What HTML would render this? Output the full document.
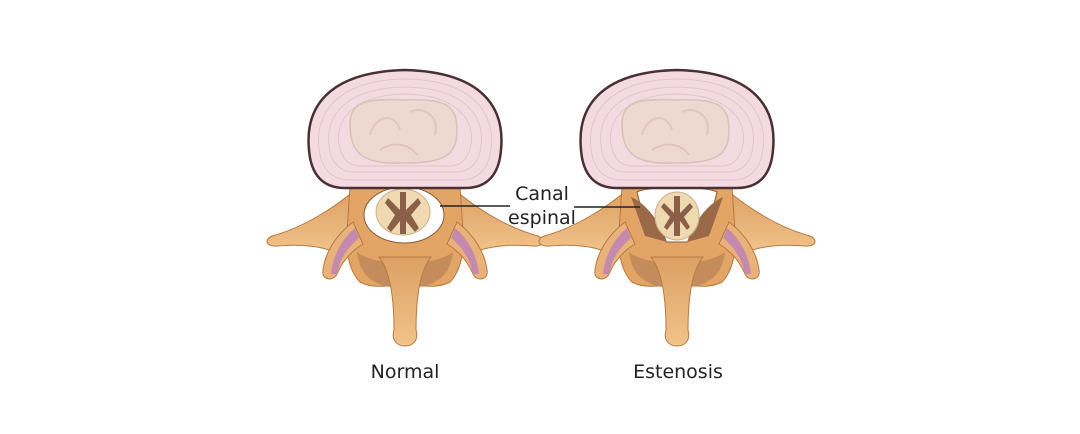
<!DOCTYPE html>
<html><head><meta charset="utf-8"><style>
html,body{margin:0;padding:0;background:#fff;width:1080px;height:434px;overflow:hidden}
svg{display:block}
text{font-family:"DejaVu Sans","Liberation Sans",sans-serif;fill:#222}
</style></head><body>
<svg width="1080" height="434" viewBox="0 0 1080 434" xmlns="http://www.w3.org/2000/svg">
<defs>
<linearGradient id="bone" x1="0" y1="0" x2="0" y2="1">
<stop offset="0" stop-color="#dca064"/><stop offset="1" stop-color="#f0c38a"/>
</linearGradient>
<g id="vert">
 <!-- transverse processes -->
 <path d="M-50,-32 C-70,-15 -100,5 -133,14 C-142,18 -138,25 -128,24 C-105,22 -85,24 -70,30 L-50,25 Z" fill="url(#bone)" stroke="#b9783e"/>
 <path d="M50,-32 C70,-15 100,5 133,14 C142,18 138,25 128,24 C105,22 85,24 70,30 L50,25 Z" fill="url(#bone)" stroke="#b9783e"/>
 <!-- body of posterior arch -->
 <path d="M-55,-35 C-40,-40 40,-40 55,-35 L58,10 C60,30 55,50 45,60 C30,68 15,62 0,64 C-15,62 -30,68 -45,60 C-55,50 -60,30 -58,10 Z" fill="#e2a565" stroke="#b9783e"/>
 <path d="M-48,30 C-30,45 30,45 48,30 C45,55 30,66 0,66 C-30,66 -45,55 -48,30 Z" fill="#b88256" opacity="0.7"/>
 <!-- facet lobes -->
 <path d="M-52,0 C-68,12 -80,30 -82,48 C-84,58 -72,60 -68,52 C-62,38 -52,28 -42,22 Z" fill="#e9b27a" stroke="#b9783e"/>
 <path d="M52,0 C68,12 80,30 82,48 C84,58 72,60 68,52 C62,38 52,28 42,22 Z" fill="#e9b27a" stroke="#b9783e"/>
 <path d="M-50,6 C-62,16 -72,32 -74,52 L-68,52 C-65,36 -56,24 -46,16 Z" fill="#c48aae"/>
 <path d="M50,6 C62,16 72,32 74,52 L68,52 C65,36 56,24 46,16 Z" fill="#c48aae"/>
 <!-- spinous process -->
 <path d="M-26,35 C-14,50 -11,80 -11,108 C-14,118 -8,124 0,124 C8,124 14,118 11,108 C11,80 14,50 26,35 Z" fill="url(#bone)" stroke="#b9783e"/>
</g>
<g id="discg">
 <path d="M-96,20 C-100,-20 -80,-58 0,-60 C80,-58 100,-20 96,20 C94,45 82,58 60,58 L-60,58 C-82,58 -94,45 -96,20 Z" fill="#f3dbe1" stroke="#4a3036" stroke-width="2.5"/>
 <path d="M-86,18 C-90,-15 -70,-50 0,-51 C70,-50 90,-15 86,18 C84,40 72,50 55,50 L-55,50 C-72,50 -84,40 -86,18 Z" fill="none" stroke="#e6c3cc"/>
 <path d="M-76,16 C-80,-12 -62,-42 0,-43 C62,-42 80,-12 76,16 C74,34 64,42 50,42 L-50,42 C-64,42 -74,34 -76,16 Z" fill="none" stroke="#e6c3cc"/>
 <path d="M-66,14 C-70,-8 -54,-35 0,-36 C54,-35 70,-8 66,14 C64,28 56,36 45,36 L-45,36 C-56,36 -64,28 -66,14 Z" fill="none" stroke="#e6c3cc"/>
 <path d="M-55,-5 C-55,-28 -40,-32 0,-30 C40,-32 52,-25 52,0 C52,25 40,33 0,33 C-40,35 -55,25 -55,-5 Z" fill="#efd8d0" stroke="#dcbfb6" stroke-width="1.5"/>
 <path d="M-35,5 C-30,-15 -10,-18 -5,0 M5,-18 C20,-25 35,-12 30,5 M-25,20 C-10,10 5,15 12,25" fill="none" stroke="#e2c6be" stroke-width="2"/>
</g>
</defs>

<!-- Left: normal -->
<g transform="translate(405,222)">
 <use href="#vert"/>
 <ellipse cx="-1" cy="-7" rx="40" ry="28" fill="#fff" stroke="#8a5a30"/>
 <ellipse cx="-2" cy="-10" rx="27" ry="23" fill="#efd9b0" stroke="#cdb08a"/>
 <path d="M-3,-30 L-3,-12 L-15,-24 L-18,-19 L-8,-7 L-16,6 L-12,10 L-3,-1 L-3,12 L3,12 L3,-1 L12,10 L16,6 L8,-7 L18,-19 L15,-24 L3,-12 L3,-30 Z" fill="#8a6048" transform="translate(-2,0)"/>
</g>
<g transform="translate(405,130)"><use href="#discg"/></g>

<!-- Right: stenosis -->
<g transform="translate(677,222)">
 <use href="#vert"/>
 <path d="M-40,-30 C-30,-36 30,-36 40,-30 C35,-5 22,12 10,20 L-10,20 C-22,12 -35,-5 -40,-30 Z" fill="#fff" stroke="#8a5a30"/>
 <path d="M-46,-25 C-30,-18 -16,2 -10,20 L-32,14 Z" fill="#9a6a48"/>
 <path d="M46,-25 C30,-18 16,2 10,20 L32,14 Z" fill="#9a6a48"/>
 <ellipse cx="0" cy="-6" rx="22" ry="24" fill="#efd9b0" stroke="#cdb08a"/>
 <path d="M-3,-26 L-3,-9 L-13,-19 L-16,-15 L-7,-5 L-13,5 L-10,8 L-3,-1 L-3,14 L3,14 L3,-1 L10,8 L13,5 L7,-5 L16,-15 L13,-19 L3,-9 L3,-26 Z" fill="#8a6048"/>
</g>
<g transform="translate(677,130)"><use href="#discg"/></g>

<!-- Labels -->
<line x1="440" y1="206" x2="510" y2="206" stroke="#222" stroke-width="1.5"/>
<line x1="574" y1="207" x2="640" y2="207" stroke="#222" stroke-width="1.5"/>
<text x="542" y="200" font-size="19" text-anchor="middle">Canal</text>
<text x="542" y="224" font-size="19" text-anchor="middle">espinal</text>
<text x="405" y="378" font-size="19" text-anchor="middle">Normal</text>
<text x="678" y="378" font-size="19" text-anchor="middle">Estenosis</text>
</svg>
</body></html>
